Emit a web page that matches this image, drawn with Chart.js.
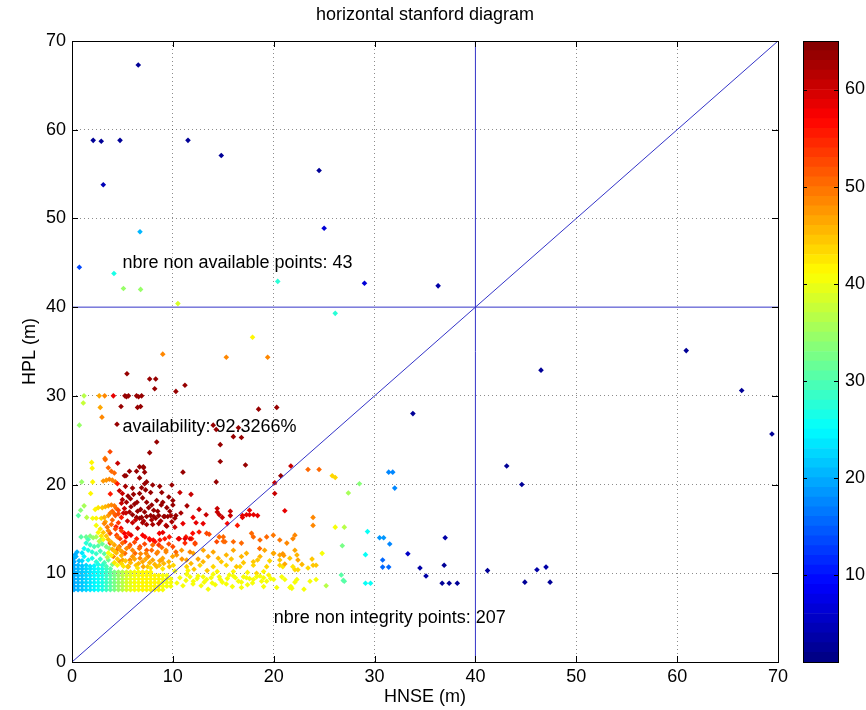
<!DOCTYPE html>
<html lang="en">

<head>
    <meta charset="UTF-8">
    <title>horizontal stanford diagram</title>
    <script src="https://cdn.jsdelivr.net/npm/chart.js"></script>
    <style>
        html,
        body {
            margin: 0;
            padding: 0;
            background: #fff;
        }

        .wrap {
            position: relative;
            width: 866px;
            height: 710px;
        }

        #stanford {
            position: absolute;
            left: 0;
            top: 0;
        }

        /* colour scale sits to the right of the plot */
        #colorbar {
            position: absolute;
            left: 780px;
            top: 0;
        }
    </style>
</head>

<body>
    <div class="wrap">
        <canvas id="stanford" width="866" height="710"></canvas>
        <canvas id="colorbar" width="86" height="710"></canvas>
    </div>

    <script>
        const axisTicks = [0, 10, 20, 30, 40, 50, 60, 70];
        const colorTicks = [10, 20, 30, 40, 50, 60];
        const colorRange = [1, 65];
        const alertLimit = 40;

        // [HNSE, HPL, colour level]
        const upperPts = [
            [6.57, 67.3, 2], [2.1, 58.8, 2], [2.9, 58.7, 2], [4.76, 58.8, 2], [11.5, 58.8, 2],
            [14.8, 57.1, 2], [24.5, 55.4, 2], [3.1, 53.8, 4], [6.74, 48.5, 20], [25.0, 48.9, 6],
            [0.73, 44.5, 13], [4.16, 43.8, 26], [5.1, 42.1, 34], [6.8, 42.0, 34], [10.5, 40.4, 38],
            [20.4, 42.9, 27], [26.1, 39.3, 27], [29.0, 42.7, 6], [36.3, 42.4, 3]
        ];

        const rightPts = [
            [33.8, 28.0, 2], [46.5, 32.9, 2], [60.9, 35.1, 2], [66.4, 30.6, 2], [69.4, 25.7, 2],
            [43.1, 22.1, 2], [44.6, 20.0, 2], [31.4, 21.4, 17], [31.8, 21.4, 17], [32.0, 19.6, 17],
            [30.5, 14.0, 18], [30.9, 14.0, 18], [31.5, 13.3, 17], [37.0, 14.0, 3], [33.3, 12.2, 5],
            [30.8, 11.5, 15], [30.8, 10.7, 15], [31.4, 10.7, 15], [34.5, 10.6, 3], [36.9, 10.9, 2],
            [35.1, 9.7, 3], [36.7, 8.87, 2], [37.4, 8.87, 2], [38.2, 8.87, 2], [41.2, 10.3, 2],
            [44.9, 9.0, 2], [46.1, 10.4, 3], [47.0, 10.7, 3], [47.4, 9.0, 2], [29.3, 14.7, 25],
            [29.1, 12.1, 25], [29.1, 8.87, 25], [29.6, 8.87, 25], [28.5, 20.1, 33], [27.4, 19.05, 35],
            [26.8, 13.1, 32], [26.7, 9.8, 30], [26.9, 9.2, 30], [27.0, 15.2, 36], [27.0, 9.1, 30]
        ];

        const midPts = [
            [25.8, 21.0, 43], [26.1, 20.8, 43], [21.7, 22.1, 60], [23.4, 21.7, 50], [24.5, 21.7, 50],
            [21.1, 17.05, 58], [23.9, 16.3, 48], [23.9, 15.4, 48], [22.1, 14.3, 48], [22.1, 12.6, 46],
            [20.9, 12.2, 47], [21.0, 12.0, 47], [21.1, 11.05, 46], [22.4, 11.5, 46], [22.8, 11.0, 45],
            [23.8, 11.6, 44], [23.9, 10.9, 44], [24.2, 10.9, 44], [23.4, 10.6, 43], [22.1, 10.4, 43],
            [22.4, 10.4, 43], [21.1, 9.3, 40], [22.1, 9.0, 40], [23.6, 9.1, 40], [24.2, 9.3, 40],
            [21.8, 8.3, 40], [23.0, 8.2, 40], [21.7, 8.5, 40], [26.1, 15.2, 40], [25.2, 8.6, 36],
            [24.8, 12.25, 40]
        ];

        const warmPts = [
            [17.9, 36.6, 41], [9.0, 34.7, 48], [15.3, 34.35, 48], [19.4, 34.35, 48],
            [5.45, 32.5, 63], [7.7, 31.9, 63], [8.3, 31.9, 63], [8.2, 30.8, 63], [10.3, 30.5, 63], [11.2, 31.2, 63],
            [1.19, 30, 36], [2.7, 30, 46], [3.24, 30, 48], [4.1, 30, 58], [5.25, 30, 63], [5.4, 29.9, 63],
            [5.6, 30, 63], [6.4, 30, 63], [6.6, 29.9, 63], [6.9, 30, 63],
            [1.12, 29.2, 37], [2.8, 28.7, 46], [4.86, 28.8, 63], [6.5, 28.7, 63], [6.8, 28.8, 63],
            [2.97, 27.6, 48], [0.73, 26.7, 34], [4.46, 26.8, 63],
            [14.0, 26.7, 63], [14.3, 26.2, 63], [16.5, 26.4, 63], [16.0, 25.4, 63], [16.8, 25.3, 63],
            [18.5, 28.5, 63], [20.3, 28.7, 63], [8.4, 24.8, 63], [7.7, 23.6, 63], [14.7, 24.5, 63], [11.0, 21.4, 63],
            [3.77, 23.7, 52], [3.27, 22.95, 49], [1.95, 22.5, 41], [2.0, 21.85, 41], [4.53, 22.4, 60],
            [3.3, 22.8, 50], [3.6, 21.9, 50], [3.9, 21.5, 50], [4.2, 21.3, 50],
            [5.2, 21.0, 63], [5.35, 21.0, 63], [5.7, 21.5, 63], [6.4, 21.5, 63], [6.7, 22.0, 63],
            [7.07, 22.0, 63], [7.1, 21.9, 63], [7.2, 21.4, 63], [6.7, 20.75, 63],
            [7.4, 20.3, 63], [7.2, 20.1, 63], [8.0, 19.95, 63], [9.9, 19.95, 63],
            [0.96, 20.3, 34], [2.05, 20.3, 41], [3.1, 20.4, 47], [3.4, 20.5, 47], [3.7, 20.6, 48],
            [4.0, 20.5, 48], [4.3, 20.3, 49], [4.5, 20.1, 55],
            [1.85, 19.0, 41], [3.8, 18.95, 55], [4.7, 19.3, 60], [5.0, 19.0, 60], [5.55, 18.7, 63],
            [6.1, 18.9, 63], [6.9, 19.65, 63], [6.7, 19.0, 63], [7.8, 19.1, 63], [8.7, 19.8, 63],
            [10.7, 19.1, 60], [11.8, 18.9, 60], [10.0, 18.2, 63], [10.0, 17.7, 63], [6.45, 18.0, 63],
            [6.8, 17.2, 63], [5.85, 17.5, 63], [5.2, 17.3, 60], [5.1, 16.8, 60], [5.35, 16.8, 60],
            [7.9, 17.7, 63], [8.1, 17.1, 63], [8.5, 17.0, 63], [8.85, 17.7, 63], [9.2, 16.4, 63],
            [10.3, 16.5, 63], [10.2, 16.2, 63],
            [14.7, 22.6, 63], [17.2, 22.2, 63], [14.3, 20.3, 63], [20.1, 20.2, 60], [20.7, 21.0, 63],
            [20.1, 19.0, 60], [14.4, 17.3, 60], [14.4, 16.9, 60], [14.6, 16.6, 60], [14.9, 16.3, 60],
            [15.7, 17.0, 60], [15.7, 16.5, 60], [16.9, 16.5, 58], [16.9, 16.3, 58], [17.3, 16.6, 58],
            [17.6, 16.6, 58], [18.0, 16.6, 58], [18.4, 16.5, 58], [17.6, 17.1, 58], [12.3, 15.7, 58],
            [0.63, 16.5, 30], [0.86, 17.1, 33], [1.2, 17.6, 35], [1.46, 16.3, 36], [2.05, 16.2, 40],
            [2.4, 16.2, 41], [2.9, 16.2, 43], [3.2, 16.3, 45], [3.6, 16.5, 47],
            [2.3, 17.2, 41], [2.6, 17.4, 42], [3.0, 17.4, 44], [3.3, 17.5, 45], [3.6, 17.6, 46],
            [3.9, 17.7, 48], [4.2, 17.6, 49], [4.4, 17.3, 50], [4.6, 17.1, 52], [4.0, 17.0, 50],
            [3.8, 16.8, 49], [4.2, 16.7, 50], [4.3, 16.5, 51], [4.6, 16.7, 52],
            [6.0, 16.6, 63], [6.4, 16.3, 63], [6.7, 16.2, 63], [6.9, 16.3, 63], [7.4, 16.4, 63],
            [7.8, 16.5, 63], [8.1, 16.4, 63], [8.3, 16.2, 63], [8.6, 16.5, 63], [9.1, 16.4, 63],
            [9.5, 16.4, 63], [9.8, 16.5, 62], [5.5, 15.9, 60], [6.0, 15.7, 60], [7.0, 15.7, 62],
            [7.4, 15.5, 62], [8.0, 15.5, 62], [8.6, 15.6, 62], [9.4, 15.3, 62],
            [9.0, 14.6, 58], [10.2, 15.2, 60], [10.6, 13.9, 58], [11.2, 13.9, 58], [11.7, 13.9, 58],
            [3.2, 15.6, 48], [3.5, 15.2, 49], [3.9, 15.5, 50], [4.3, 15.0, 52], [3.6, 14.8, 48],
            [5.0, 18.3, 62], [5.4, 18.0, 62], [5.8, 18.4, 63], [6.2, 17.8, 63], [7.0, 18.5, 63],
            [7.4, 18.0, 63], [7.6, 17.4, 63], [8.4, 18.2, 63], [9.0, 18.0, 63], [9.4, 17.4, 63],
            [9.6, 18.6, 63], [8.9, 19.1, 63], [7.3, 19.4, 63], [6.0, 19.6, 63], [5.3, 19.8, 62],
            [4.9, 17.9, 60], [6.5, 17.0, 63], [7.2, 16.9, 63], [9.7, 17.0, 63], [5.7, 16.9, 62],
            [6.3, 16.0, 60], [7.1, 15.9, 62], [7.9, 16.0, 62], [8.8, 15.9, 62], [9.9, 15.8, 62],
            [10.8, 16.8, 62], [11.4, 17.6, 62], [12.6, 17.2, 60], [13.3, 16.6, 60], [12.0, 16.3, 58],
            [11.0, 15.6, 58], [13.0, 15.6, 58], [15.4, 15.6, 56], [16.4, 15.4, 55]
        ];

        const bandPts = [
            [3.77, 14.5, 52], [4.43, 14.3, 53], [4.76, 13.9, 53], [5.59, 14.5, 55], [5.25, 13.56, 54],
            [5.75, 13.2, 52], [6.41, 13.9, 55], [7.24, 14.1, 56], [7.73, 13.75, 56], [8.23, 13.56, 55],
            [8.72, 13.75, 55], [6.74, 13.0, 52], [7.4, 12.6, 51], [6.25, 12.25, 50], [5.25, 12.25, 50],
            [4.43, 12.6, 50], [3.77, 13.4, 51], [4.1, 11.9, 48], [4.76, 11.3, 47], [5.75, 11.5, 48],
            [6.74, 11.7, 48], [7.57, 11.9, 48], [8.4, 12.25, 49], [8.89, 11.5, 47], [9.32, 12.6, 48],
            [5.59, 10.75, 46], [7.07, 10.75, 46], [8.4, 10.75, 45],
            [4.36, 15.25, 55], [4.86, 15.07, 57], [5.19, 14.5, 57], [5.35, 14.1, 57], [5.85, 14.3, 58],
            [6.51, 15.07, 60], [7.0, 14.3, 57], [7.67, 13.9, 56], [8.06, 13.75, 56], [8.66, 14.5, 57],
            [9.32, 15.4, 60], [9.65, 14.1, 55], [10.64, 13.9, 55], [11.3, 14.1, 55], [11.97, 14.5, 56],
            [4.69, 13.0, 50], [5.68, 13.0, 50], [6.68, 12.8, 50], [8.0, 13.2, 50], [8.5, 12.4, 48],
            [9.32, 12.4, 48], [7.34, 12.25, 48], [6.0, 11.9, 47], [5.02, 11.5, 46], [7.0, 11.3, 46],
            [8.0, 11.5, 46], [8.99, 11.7, 46], [9.98, 11.9, 46], [5.52, 10.75, 44], [6.35, 10.9, 44],
            [7.5, 10.75, 44], [8.66, 10.9, 44], [9.65, 10.75, 44],
            [10.54, 13.9, 55], [11.2, 13.4, 54], [11.87, 13.9, 54], [12.2, 13.4, 53], [13.35, 14.5, 52],
            [14.35, 13.56, 52], [15.0, 14.1, 50], [15.17, 13.56, 50], [16.0, 13.56, 50], [16.8, 13.4, 50],
            [17.8, 14.5, 50], [17.98, 14.1, 50], [18.64, 13.75, 50], [19.3, 14.1, 50], [19.96, 14.3, 49],
            [20.6, 13.75, 49], [21.3, 13.4, 48], [21.9, 13.9, 48], [12.6, 14.65, 55], [13.6, 14.4, 52],
            [12.2, 13.3, 52], [14.6, 14.1, 50], [15.0, 13.6, 50], [18.6, 12.8, 50],
            [10.38, 12.06, 47], [10.87, 12.6, 47], [11.37, 11.5, 46], [12.03, 12.25, 46], [13.02, 12.6, 46],
            [14.0, 12.4, 46], [14.5, 11.7, 45], [15.3, 12.06, 45], [16.0, 12.6, 46], [16.8, 11.9, 45],
            [17.3, 12.25, 45], [17.98, 11.3, 44], [18.64, 11.9, 45], [19.1, 12.6, 46], [19.96, 12.25, 45],
            [20.6, 11.5, 44], [21.6, 11.7, 44], [22.3, 12.06, 45], [20.0, 12.25, 46], [20.6, 12.06, 46],
            [10.05, 10.9, 43], [11.37, 10.75, 43], [12.69, 10.9, 43], [14.0, 10.75, 43], [15.3, 10.9, 43],
            [16.66, 10.75, 43], [17.98, 10.9, 43], [19.3, 10.75, 43], [20.6, 10.9, 43], [21.9, 10.75, 42],
            [12.1, 10.45, 44], [13.4, 10.3, 44], [16.3, 10.75, 44], [18.3, 10.0, 43], [20.9, 10.75, 42],
            [10.2, 10.25, 40], [10.7, 9.5, 40], [11.37, 9.9, 40], [12.03, 9.1, 40], [12.5, 9.7, 40],
            [13.35, 9.3, 40], [14.0, 9.9, 40], [14.7, 9.3, 40], [15.3, 8.8, 40], [16.0, 9.7, 40],
            [16.8, 9.0, 40], [17.3, 9.5, 40], [17.98, 9.3, 40], [18.64, 9.7, 40], [19.3, 9.1, 40],
            [20.3, 8.4, 40], [21.6, 8.4, 40], [22.3, 9.3, 40], [13.5, 8.2, 40], [16.8, 8.4, 40],
            [11.7, 9.6, 40], [12.4, 9.4, 40], [13.0, 9.6, 40], [13.8, 9.5, 40], [14.6, 9.6, 40],
            [15.4, 9.4, 40], [16.2, 9.5, 40], [17.0, 9.6, 40], [17.6, 9.4, 40], [18.3, 9.6, 40],
            [19.0, 9.5, 40], [19.7, 9.4, 40], [12.8, 8.6, 40], [14.2, 8.7, 40], [15.9, 8.5, 40],
            [17.4, 8.7, 40], [19.0, 8.5, 40],
            [10.4, 8.9, 40], [11.0, 8.6, 40], [11.3, 9.2, 40], [12.0, 8.8, 40], [13.1, 9.0, 40],
            [13.9, 8.9, 40], [14.9, 9.0, 40], [15.6, 9.8, 40], [16.5, 9.1, 40], [17.9, 8.9, 40],
            [18.8, 9.1, 40], [19.5, 9.8, 41], [20.0, 9.3, 40], [20.8, 9.6, 40], [11.5, 10.3, 41],
            [14.4, 10.2, 41], [16.0, 10.2, 41], [17.4, 10.1, 41], [19.0, 10.2, 41],
            [3.1, 14.6, 44], [3.4, 14.2, 44], [3.6, 13.8, 45], [3.9, 13.5, 45], [4.2, 13.2, 46],
            [4.0, 12.7, 45], [4.4, 12.3, 45], [4.8, 12.6, 46], [4.9, 12.0, 45], [4.5, 11.6, 44],
            [4.2, 11.2, 42], [4.9, 11.1, 43], [5.3, 11.4, 44],
            [2.4, 15.4, 40], [2.8, 15.0, 42], [2.6, 14.6, 41], [2.9, 14.2, 42], [3.3, 15.8, 46],
            [4.0, 16.0, 50], [4.6, 15.7, 53], [4.9, 16.3, 55], [2.7, 13.6, 36], [3.1, 13.8, 40],
            [4.5, 14.1, 50], [4.9, 14.8, 53], [3.6, 12.3, 40], [3.9, 12.0, 41], [3.5, 11.8, 36],
            [4.2, 12.5, 44], [4.6, 12.9, 47], [5.0, 13.4, 50], [5.4, 12.8, 48], [5.0, 12.4, 47],
            [4.5, 10.9, 40], [5.1, 10.8, 42], [5.8, 11.2, 45], [6.2, 11.6, 46], [6.6, 11.1, 45],
            [7.3, 11.6, 46], [7.7, 11.2, 45], [8.2, 11.0, 45], [8.7, 11.4, 46], [9.1, 11.1, 45],
            [9.6, 11.3, 45], [6.5, 10.6, 42], [7.8, 10.6, 42], [9.0, 10.5, 42], [6.0, 12.6, 48],
            [6.8, 12.2, 48], [7.9, 12.6, 50], [8.9, 12.9, 50], [9.6, 13.3, 52], [6.2, 13.5, 52],
            [7.2, 13.3, 52], [8.6, 13.2, 53], [9.2, 13.9, 55], [10.0, 13.0, 52], [10.3, 12.4, 50],
            [10.9, 11.6, 47], [11.7, 12.4, 48], [12.5, 11.6, 46], [13.5, 11.9, 46], [11.8, 11.1, 45],
            [13.0, 11.3, 45], [14.8, 11.3, 44], [15.8, 11.6, 44], [17.0, 11.2, 44], [18.4, 11.5, 44],
            [19.6, 11.4, 43]
        ];

        const coolPts = [
            [1.4, 13.4, 27], [1.8, 13.2, 28], [2.2, 13.0, 29], [2.6, 13.1, 30], [3.0, 13.3, 31],
            [3.4, 13.0, 32], [3.7, 12.8, 33], [1.6, 12.6, 26], [2.0, 12.4, 27], [2.4, 12.2, 28],
            [2.8, 12.5, 29], [3.2, 12.2, 30], [1.2, 11.9, 24], [1.6, 11.5, 25], [2.0, 11.7, 26],
            [2.4, 11.3, 27], [2.8, 11.6, 28], [3.2, 11.2, 29], [3.6, 11.5, 31], [4.0, 11.0, 32],
            [0.9, 14.1, 30], [1.4, 14.1, 31], [1.8, 14.2, 33], [2.1, 14.0, 34], [2.4, 14.1, 35],
            [0.2, 10.9, 19], [0.2, 11.3, 19], [0.2, 11.7, 19], [0.3, 12.1, 19], [0.5, 12.4, 20],
            [0.6, 10.9, 20], [0.7, 11.4, 20], [0.4, 11.9, 20], [1.0, 10.85, 21], [1.4, 10.9, 22],
            [1.8, 10.8, 23], [2.2, 10.85, 24], [1.0, 12.3, 23], [1.2, 12.8, 25], [1.0, 11.4, 22],
            [2.6, 11.0, 26], [3.0, 10.9, 27], [3.4, 10.8, 29], [1.6, 13.8, 29], [2.9, 13.8, 33]
        ];

        // dense block near the origin: shared HNSE columns, one HPL per row
        const coreHnse = [0.2, 0.6, 1.0, 1.4, 1.8, 2.2, 2.6, 3.0, 3.4, 3.8, 4.2, 4.6, 5.0,
            5.4, 5.8, 6.2, 6.6, 7.0, 7.4, 7.8, 8.2, 8.6, 9.0, 9.4, 9.8];
        const coreLevel = [19, 20, 21, 22, 23, 24, 25, 26, 28, 30, 32, 34, 36,
            38, 39, 40, 40, 41, 41, 41, 41, 41, 40, 40, 40];
        // [HPL, first column, last column]
        const coreRows = [[8.15, 0, 22], [8.55, 0, 24], [8.95, 0, 24], [9.35, 0, 24],
            [9.75, 0, 23], [10.15, 0, 19], [10.5, 0, 9]];

        const notes = [
            { x: 5, y: 45, text: 'nbre non available points: 43' },
            { x: 5, y: 26.5, text: 'availability: 92.3266%' },
            { x: 20, y: 5, text: 'nbre non integrity points: 207' }
        ];

        const FONT = "'Liberation Sans', Arial, sans-serif";
        const GRID = 'rgba(0,0,0,0.45)';

        // jet colormap, 64 steps
        function jet(level) {
            let t = (level - colorRange[0]) / (colorRange[1] - colorRange[0]);
            let idx = Math.min(63, Math.max(0, Math.floor(t * 64)));
            t = (idx + 0.5) / 64;
            const c = v => Math.round(255 * Math.min(1, Math.max(0, v)));
            return `rgb(${c(1.5 - Math.abs(4 * t - 3))},${c(1.5 - Math.abs(4 * t - 2))},${c(1.5 - Math.abs(4 * t - 1))})`;
        }

        function toXY(list) {
            return list.map(p => ({ x: p[0], y: p[1], level: p[2] }));
        }

        const corePts = [];
        coreRows.forEach(([hpl, from, to]) => {
            for (let i = from; i <= to; i++) corePts.push({ x: coreHnse[i], y: hpl, level: coreLevel[i] });
        });

        const allPts = [
            ...corePts,
            ...toXY(coolPts),
            ...toXY(bandPts),
            ...toXY(warmPts),
            ...toXY(midPts),
            ...toXY(rightPts),
            ...toXY(upperPts)
        ];

        const lineStyle = {
            showLine: true,
            borderColor: '#3434c8',
            borderWidth: 1,
            pointRadius: 0,
            order: 0
        };

        // box, inward ticks, title and the text notes
        const framePlugin = {
            id: 'frame',
            beforeDatasetsDraw(chart) {
                const { ctx, scales: { x, y } } = chart;
                ctx.save();
                ctx.font = `18px ${FONT}`;
                ctx.fillStyle = '#000';
                ctx.textAlign = 'left';
                ctx.textBaseline = 'middle';
                notes.forEach(n => ctx.fillText(n.text, x.getPixelForValue(n.x), y.getPixelForValue(n.y)));
                ctx.restore();
            },
            afterDraw(chart) {
                const { ctx, chartArea: a, scales: { x, y } } = chart;
                ctx.save();
                ctx.strokeStyle = '#000';
                ctx.lineWidth = 1;
                ctx.strokeRect(Math.round(a.left) + 0.5, Math.round(a.top) + 0.5,
                    Math.round(a.right - a.left), Math.round(a.bottom - a.top));
                ctx.beginPath();
                axisTicks.forEach(v => {
                    const px = Math.round(x.getPixelForValue(v)) + 0.5;
                    ctx.moveTo(px, a.bottom); ctx.lineTo(px, a.bottom - 6);
                    ctx.moveTo(px, a.top); ctx.lineTo(px, a.top + 6);
                    const py = Math.round(y.getPixelForValue(v)) + 0.5;
                    ctx.moveTo(a.left, py); ctx.lineTo(a.left + 6, py);
                    ctx.moveTo(a.right, py); ctx.lineTo(a.right - 6, py);
                });
                ctx.stroke();
                ctx.font = `18px ${FONT}`;
                ctx.fillStyle = '#000';
                ctx.textAlign = 'center';
                ctx.textBaseline = 'middle';
                ctx.fillText('horizontal stanford diagram', (a.left + a.right) / 2, 15);
                ctx.restore();
            }
        };

        // the alert-limit lines replace the grid line at 40
        const gridStyle = {
            color: c => (c.tick && c.tick.value === alertLimit ? 'rgba(0,0,0,0)' : GRID),
            drawTicks: false
        };

        new Chart(document.getElementById('stanford'), {
            type: 'scatter',
            data: {
                datasets: [
                    {
                        data: allPts,
                        pointStyle: 'rectRot',
                        pointRadius: 2.8,
                        pointBorderWidth: 0,
                        pointBackgroundColor: ctx => jet(ctx.raw ? ctx.raw.level : 1),
                        order: 1
                    },
                    { ...lineStyle, data: [{ x: 0, y: 0 }, { x: 70, y: 70 }] },
                    { ...lineStyle, data: [{ x: alertLimit, y: 0 }, { x: alertLimit, y: 70 }] },
                    { ...lineStyle, data: [{ x: 0, y: alertLimit }, { x: 70, y: alertLimit }] }
                ]
            },
            options: {
                responsive: false,
                animation: false,
                layout: { padding: { top: 41, right: 88, left: 0, bottom: 0 } },
                plugins: { legend: { display: false }, tooltip: { enabled: false } },
                scales: {
                    x: {
                        type: 'linear', min: 0, max: 70,
                        afterBuildTicks: s => { s.ticks = axisTicks.map(v => ({ value: v })); },
                        afterFit: s => { s.height = 48; },
                        grid: gridStyle,
                        border: { display: false, dash: [1, 3] },
                        ticks: { autoSkip: false, maxRotation: 0, color: '#000', padding: 4, font: { family: FONT, size: 18 } },
                        title: { display: true, text: 'HNSE (m)', color: '#000', padding: { top: 0, bottom: 2 }, font: { family: FONT, size: 18 } }
                    },
                    y: {
                        type: 'linear', min: 0, max: 70,
                        afterBuildTicks: s => { s.ticks = axisTicks.map(v => ({ value: v })); },
                        afterFit: s => { s.width = 72; },
                        grid: gridStyle,
                        border: { display: false, dash: [1, 3] },
                        ticks: { autoSkip: false, color: '#000', padding: 6, font: { family: FONT, size: 18 } },
                        title: { display: true, text: 'HPL (m)', color: '#000', padding: { top: 19, bottom: 0 }, font: { family: FONT, size: 18 } }
                    }
                }
            },
            plugins: [framePlugin]
        });

        // colour scale: one floating bar per colormap step
        const bands = [];
        const step = (colorRange[1] - colorRange[0]) / 64;
        for (let i = 0; i < 64; i++) {
            const lo = colorRange[0] + i * step;
            bands.push({
                data: [[lo, lo + step]],
                backgroundColor: jet(lo + step / 2),
                borderWidth: 0,
                grouped: false,
                barPercentage: 1,
                categoryPercentage: 1
            });
        }

        const barFrame = {
            id: 'barFrame',
            afterDraw(chart) {
                const { ctx, chartArea: a, scales: { y } } = chart;
                ctx.save();
                ctx.strokeStyle = '#000';
                ctx.lineWidth = 1;
                ctx.strokeRect(Math.round(a.left) + 0.5, Math.round(a.top) + 0.5,
                    Math.round(a.right - a.left), Math.round(a.bottom - a.top));
                ctx.beginPath();
                colorTicks.forEach(v => {
                    const py = Math.round(y.getPixelForValue(v)) + 0.5;
                    ctx.moveTo(a.left, py); ctx.lineTo(a.left + 4, py);
                    ctx.moveTo(a.right, py); ctx.lineTo(a.right - 4, py);
                });
                ctx.stroke();
                ctx.restore();
            }
        };

        new Chart(document.getElementById('colorbar'), {
            type: 'bar',
            data: { labels: [''], datasets: bands },
            options: {
                responsive: false,
                animation: false,
                layout: { padding: { top: 41, bottom: 48, left: 23, right: 0 } },
                plugins: { legend: { display: false }, tooltip: { enabled: false } },
                scales: {
                    x: { display: false },
                    y: {
                        position: 'right', min: colorRange[0], max: colorRange[1],
                        afterBuildTicks: s => { s.ticks = colorTicks.map(v => ({ value: v })); },
                        afterFit: s => { s.width = 28; },
                        grid: { display: false, drawTicks: false },
                        border: { display: false },
                        ticks: { color: '#000', padding: 7, font: { family: FONT, size: 18 } }
                    }
                }
            },
            plugins: [barFrame]
        });
    </script>
</body>

</html>
